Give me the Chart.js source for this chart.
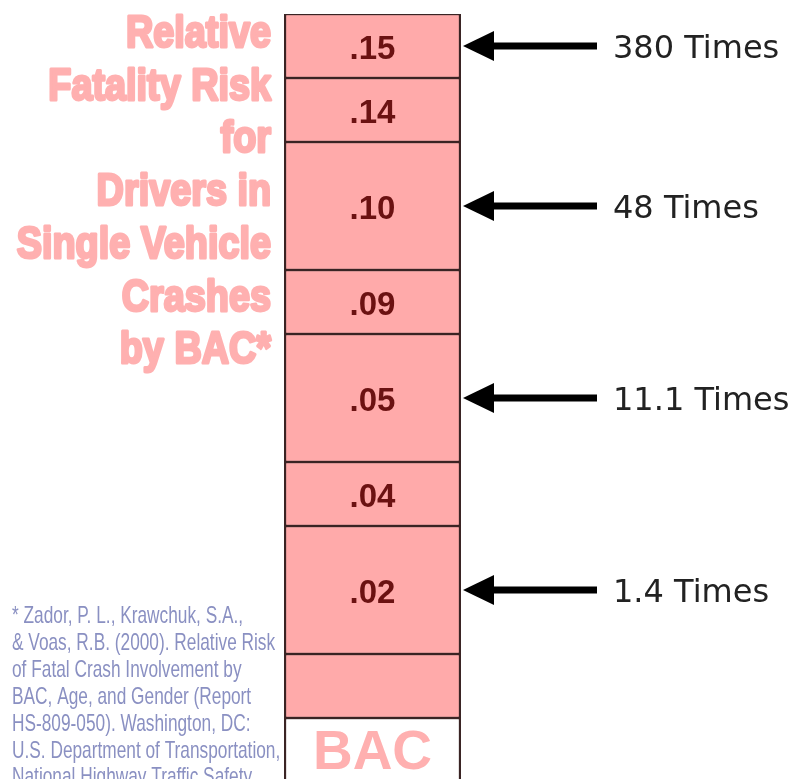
<!DOCTYPE html>
<html>
<head>
<meta charset="utf-8">
<title>Relative Fatality Risk by BAC</title>
<script src="https://cdn.jsdelivr.net/npm/chart.js"></script>
<style>
    html, body { margin: 0; padding: 0; background: #fff; overflow: hidden; }
    #wrap { width: 802px; height: 782px; }
</style>
</head>
<body>
<div id="wrap"><canvas id="chart"></canvas></div>
<script>
// column cells from the bottom up, heights in rows
const bacLabels = ['BAC', '', '.02', '.04', '.05', '.09', '.10', '.14', '.15'];
const rowHeights = [1, 1, 2, 1, 2, 1, 2, 1, 1];

// arrows on the right
const riskTargets = ['.15', '.10', '.05', '.02'];
const riskLabels = ['380 Times', '48 Times', '11.1 Times', '1.4 Times'];

const titleLines = ['Relative', 'Fatality Risk', 'for', 'Drivers in', 'Single Vehicle', 'Crashes', 'by BAC*'];
const sourceLines = [
    '* Zador, P. L., Krawchuk, S.A.,',
    '& Voas, R.B. (2000). Relative Risk',
    'of Fatal Crash Involvement by',
    'BAC, Age, and Gender (Report',
    'HS-809-050). Washington, DC:',
    'U.S. Department of Transportation,',
    'National Highway Traffic Safety'
];

const PINK = '#ffaaaa';
const LINE = '#3a2424';

function cellCenter(chart, label) {
    const i = bacLabels.indexOf(label);
    const el = chart.getDatasetMeta(i).data[0];
    return { x: el.x, y: (el.y + el.base) / 2 };
}

const decorations = {
    id: 'decorations',
    afterDatasetsDraw(chart) {
        const ctx = chart.ctx;
        const area = chart.chartArea;
        ctx.save();

        // labels inside the cells
        ctx.textAlign = 'center';
        ctx.textBaseline = 'alphabetic';
        bacLabels.forEach(lab => {
            if (!lab) return;
            const c = cellCenter(chart, lab);
            if (lab === 'BAC') {
                ctx.fillStyle = '#ffb0b0';
                ctx.font = 'bold 55px "Liberation Sans", Arial, sans-serif';
                ctx.fillText(lab, c.x, c.y + 19);
            } else {
                ctx.fillStyle = '#6b1212';
                ctx.font = 'bold 33px "Liberation Sans", Arial, sans-serif';
                ctx.fillText(lab, c.x, c.y + 13);
            }
        });

        // arrows and multipliers
        riskTargets.forEach((lab, i) => {
            const y = cellCenter(chart, lab).y;
            const tip = area.right + 2;
            ctx.fillStyle = '#000';
            ctx.beginPath();
            ctx.moveTo(tip, y);
            ctx.lineTo(tip + 31, y - 15);
            ctx.lineTo(tip + 31, y + 15);
            ctx.closePath();
            ctx.fill();
            ctx.fillRect(tip + 28, y - 3.5, 597 - tip - 28, 7);

            ctx.fillStyle = '#222';
            ctx.font = '32px "DejaVu Sans", Verdana, sans-serif';
            ctx.textAlign = 'left';
            ctx.fillText(riskLabels[i], 613, y + 12);
        });

        // title on the left (heavy condensed look)
        ctx.fillStyle = '#ffb0b0';
        ctx.strokeStyle = '#ffb0b0';
        ctx.lineWidth = 3;
        ctx.lineJoin = 'round';
        ctx.font = 'bold 45px "Liberation Sans", Arial, sans-serif';
        ctx.textAlign = 'right';
        titleLines.forEach((t, i) => {
            ctx.save();
            ctx.translate(271, 47 + i * 52.7);
            ctx.scale(0.84, 1);
            ctx.fillText(t, 0, 0);
            ctx.strokeText(t, 0, 0);
            ctx.restore();
        });

        // source note
        ctx.fillStyle = '#8a90c2';
        ctx.font = '24px "Liberation Sans", Arial, sans-serif';
        ctx.textAlign = 'left';
        sourceLines.forEach((t, i) => {
            ctx.save();
            ctx.translate(12, 623 + i * 26.9);
            ctx.scale(0.72, 1);
            ctx.fillText(t, 0, 0);
            ctx.restore();
        });

        ctx.restore();
    }
};

new Chart(document.getElementById('chart'), {
    type: 'bar',
    data: {
        labels: ['BAC'],
        datasets: bacLabels.map((lab, i) => ({
            label: lab,
            data: [rowHeights[i]],
            backgroundColor: lab === 'BAC' ? '#ffffff' : PINK,
            borderColor: LINE,
            borderWidth: { top: 1.5, bottom: 1.5, left: 2.5, right: 2.5 },
            borderSkipped: false,
            barPercentage: 1,
            categoryPercentage: 1
        }))
    },
    options: {
        responsive: true,
        maintainAspectRatio: false,
        animation: false,
        devicePixelRatio: 1,
        layout: { padding: { left: 284, right: 341, top: 14, bottom: 0 } },
        plugins: { legend: { display: false }, tooltip: { enabled: false } },
        scales: {
            x: { stacked: true, display: false },
            y: { stacked: true, display: false, min: 0, max: 12 }
        }
    },
    plugins: [decorations]
});
</script>
</body>
</html>
